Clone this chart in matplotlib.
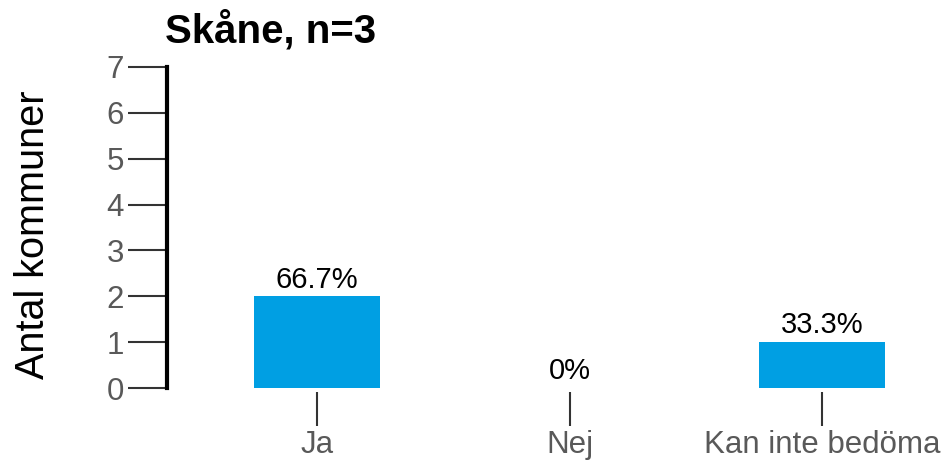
import matplotlib
matplotlib.use("Agg")
import matplotlib.pyplot as plt

categories = ["Ja", "Nej", "Kan inte bedöma"]
counts = [2, 0, 1]
percent_labels = ["66.7%", "0%", "33.3%"]
title = "Skåne, n=3"
ylabel = "Antal kommuner"
yticks = [0, 1, 2, 3, 4, 5, 6, 7]

plt.rcParams["font.family"] = ["Liberation Sans", "DejaVu Sans"]

fig = plt.figure(figsize=(9.51, 4.65), dpi=100)
ax = fig.add_axes([167 / 951, 73 / 465, (945 - 167) / 951, (392 - 67) / 465])

x = list(range(len(categories)))
ax.bar(x, counts, width=0.5, color="#009FE3", zorder=2)

for xi, c, lab in zip(x, counts, percent_labels):
    ax.annotate(lab, (xi, c), xytext=(0, 2), textcoords="offset points",
                ha="center", va="bottom", fontsize=21, color="black")

ax.set_xlim(-0.594, 2.487)
ax.set_ylim(-0.087, 7)
ax.set_yticks(yticks)
ax.set_xticks(x)
ax.set_xticklabels(categories)

for s in ["top", "right", "bottom"]:
    ax.spines[s].set_visible(False)
ax.spines["left"].set_bounds(0, 7)
ax.spines["left"].set_linewidth(3)
ax.spines["left"].set_color("black")

ax.tick_params(axis="y", length=28, width=1.5, color="#333333",
               labelsize=22.5, labelcolor="#595959", pad=3)
ax.tick_params(axis="x", length=24.5, width=1.5, color="#333333",
               labelsize=22.5, labelcolor="#595959", pad=3)

ax.set_ylabel(ylabel, fontsize=28.5, color="black")
ax.yaxis.set_label_coords(-0.148, 0.483)
fig.text(165 / 951, 1 - 30 / 465, title, fontsize=29, fontweight="bold",
         ha="left", va="center")

fig.savefig("out.png", dpi=100)
